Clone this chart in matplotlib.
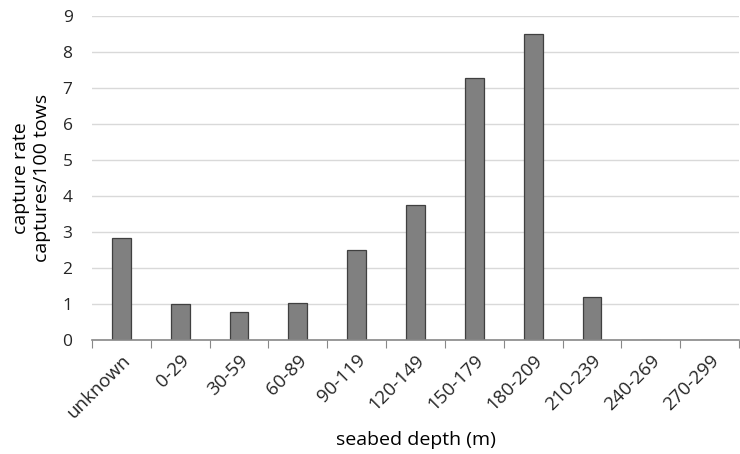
import matplotlib
matplotlib.use("Agg")
import matplotlib.pyplot as plt
import numpy as np

categories = ["unknown", "0-29", "30-59", "60-89", "90-119", "120-149",
              "150-179", "180-209", "210-239", "240-269", "270-299"]
capture_rate = [2.82, 1.0, 0.78, 1.04, 2.51, 3.74, 7.29, 8.51, 1.2, 0, 0]
yticks = list(range(0, 10))

plt.rcParams['font.family'] = ['Open Sans', 'DejaVu Sans']

fig = plt.figure(figsize=(7.4, 4.54), dpi=100)
ax = fig.add_axes([92/740, 1-340/454, 647/740, (340-16)/454])

x = np.arange(len(categories))
ax.bar(x, capture_rate, width=0.32, color="#808080", edgecolor="#404040",
       linewidth=0.9, zorder=3)

ax.set_xlim(-0.5, len(categories)-0.5)
ax.set_ylim(0, 9)
ax.set_yticks(yticks)
ax.set_yticklabels([str(v) for v in yticks], fontsize=12.5, color="#262626")
ax.yaxis.grid(True, color="#d9d9d9", linewidth=1, zorder=0)
ax.tick_params(axis='y', length=0, pad=14)

ax.set_xticks(np.arange(-0.5, len(categories)+0.5, 1), minor=False)
ax.set_xticklabels([])
ax.tick_params(axis='x', which='major', length=6, color="#888888", direction='out')
ax.set_xticks(x, minor=True)
ax.set_xticklabels(categories, minor=True, rotation=45, ha='right',
                   rotation_mode='anchor', fontsize=13.5, color="#262626")
ax.tick_params(axis='x', which='minor', length=0, pad=8)

for s in ['top', 'right', 'left']:
    ax.spines[s].set_visible(False)
ax.spines['bottom'].set_color("#888888")
ax.spines['bottom'].set_linewidth(1.2)
ax.spines['bottom'].set_zorder(4)

ax.set_ylabel("capture rate\ncaptures/100 tows", fontsize=14, color="#000000",
              linespacing=1.25, labelpad=8)
fig.text((92+739)/2/740, 1-440/454, "seabed depth (m)", ha='center', va='center',
         fontsize=14)

fig.savefig("out.png", dpi=100)
